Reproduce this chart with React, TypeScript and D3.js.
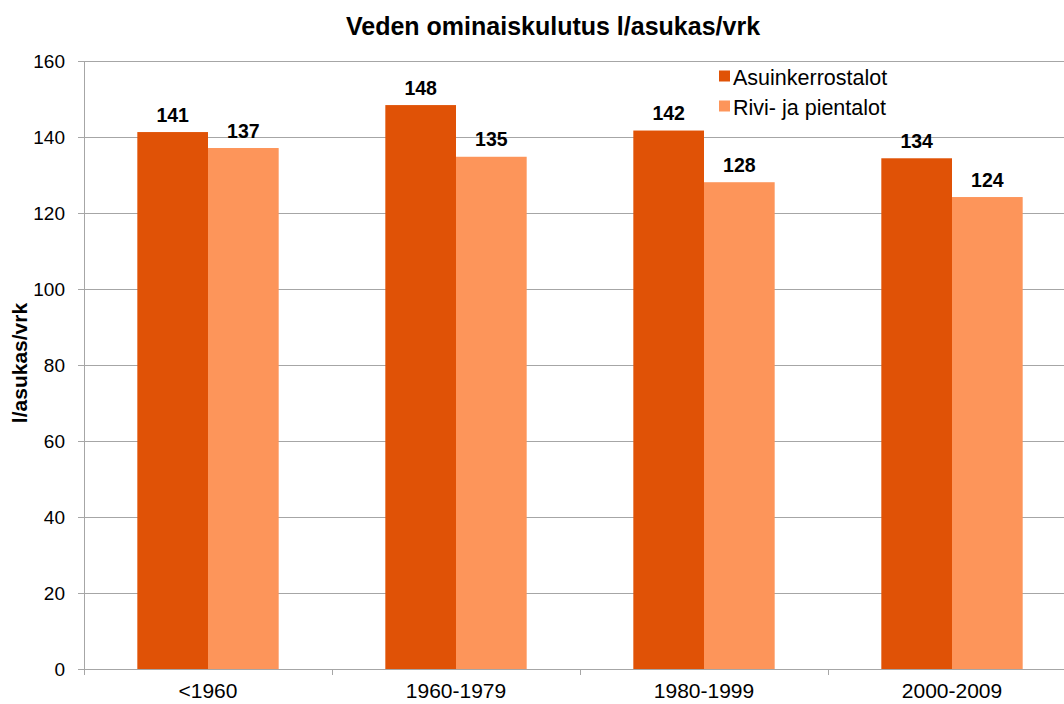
import React from "react";
import * as d3 from "d3";

const categories = ["<1960", "1960-1979", "1980-1999", "2000-2009"];
const seriesNames = ["Asuinkerrostalot", "Rivi- ja pientalot"];
const asuinkerrostalot = [141.3, 148.4, 141.7, 134.4];
const rivitalot = [137.1, 134.8, 128.1, 124.2];
const yTicks = [0, 20, 40, 60, 80, 100, 120, 140, 160];
const colors = ["#E05206", "#FD955A"];

const W = 1064;
const H = 704;
const margin = { top: 60, right: -12, bottom: 35, left: 84 };

const App = () => {
  const x0 = d3
    .scaleBand()
    .domain(categories)
    .range([margin.left, W - margin.right])
    .paddingInner(0.43)
    .paddingOuter(0.215);
  const x1 = d3
    .scaleBand()
    .domain(seriesNames)
    .range([0, x0.bandwidth()]);
  const y = d3
    .scaleLinear()
    .domain([0, 160])
    .range([669, 61]);

  const series = [asuinkerrostalot, rivitalot];
  const step = x0.step();
  const font = "Liberation Sans, Arial, sans-serif";
  const fmt = d3.format(".0f");

  return (
    <svg width={W} height={H} style={{ position: "absolute", left: 0, top: 0 }} fontFamily={font}>
      <rect width={W} height={H} fill="#fff" />
      <text x={553} y={35} textAnchor="middle" fontSize={25} fontWeight="bold">
        Veden ominaiskulutus l/asukas/vrk
      </text>

      {/* gridlines */}
      {yTicks.map((t) => (
        <g key={t}>
          <line x1={78} x2={W} y1={Math.round(y(t)) + 0.5} y2={Math.round(y(t)) + 0.5} stroke="#a6a6a6" strokeWidth={1} />
          <text x={65} y={y(t) + 6.5} textAnchor="end" fontSize={19} fill="#000">
            {t}
          </text>
        </g>
      ))}
      <line x1={84.5} x2={84.5} y1={y(160)} y2={y(0) + 6} stroke="#a6a6a6" />

      {/* bars */}
      {categories.map((c, i) => (
        <g key={c} transform={`translate(${x0(c)},0)`}>
          {seriesNames.map((s, j) => (
            <g key={s}>
              <rect
                x={x1(s)}
                y={y(series[j][i])}
                width={x1.bandwidth()}
                height={y(0) - y(series[j][i])}
                fill={colors[j]}
              />
              <text
                x={(x1(s) as number) + x1.bandwidth() / 2}
                y={y(series[j][i]) - 10.5}
                textAnchor="middle"
                fontSize={19.5}
                fontWeight="bold"
              >
                {fmt(series[j][i])}
              </text>
            </g>
          ))}
        </g>
      ))}

      {/* x axis */}
      {categories.map((c, i) => (
        <g key={c}>
          <line
            x1={Math.round(margin.left + step * (i + 1)) + 0.5}
            x2={Math.round(margin.left + step * (i + 1)) + 0.5}
            y1={y(0)}
            y2={y(0) + 6}
            stroke="#a6a6a6"
          />
          <text x={(x0(c) as number) + x0.bandwidth() / 2} y={698} textAnchor="middle" fontSize={21}>
            {c}
          </text>
        </g>
      ))}

      <text
        transform={`translate(27,${363}) rotate(-90)`}
        textAnchor="middle"
        fontSize={21}
        fontWeight="bold"
      >
        l/asukas/vrk
      </text>

      {/* legend */}
      {seriesNames.map((s, j) => (
        <g key={s} transform={`translate(719,${76 + j * 30})`}>
          <rect x={0} y={-5.5} width={11} height={11} fill={colors[j]} />
          <text x={14} y={8.5} fontSize={21.5}>
            {s}
          </text>
        </g>
      ))}
    </svg>
  );
};

export default App;
